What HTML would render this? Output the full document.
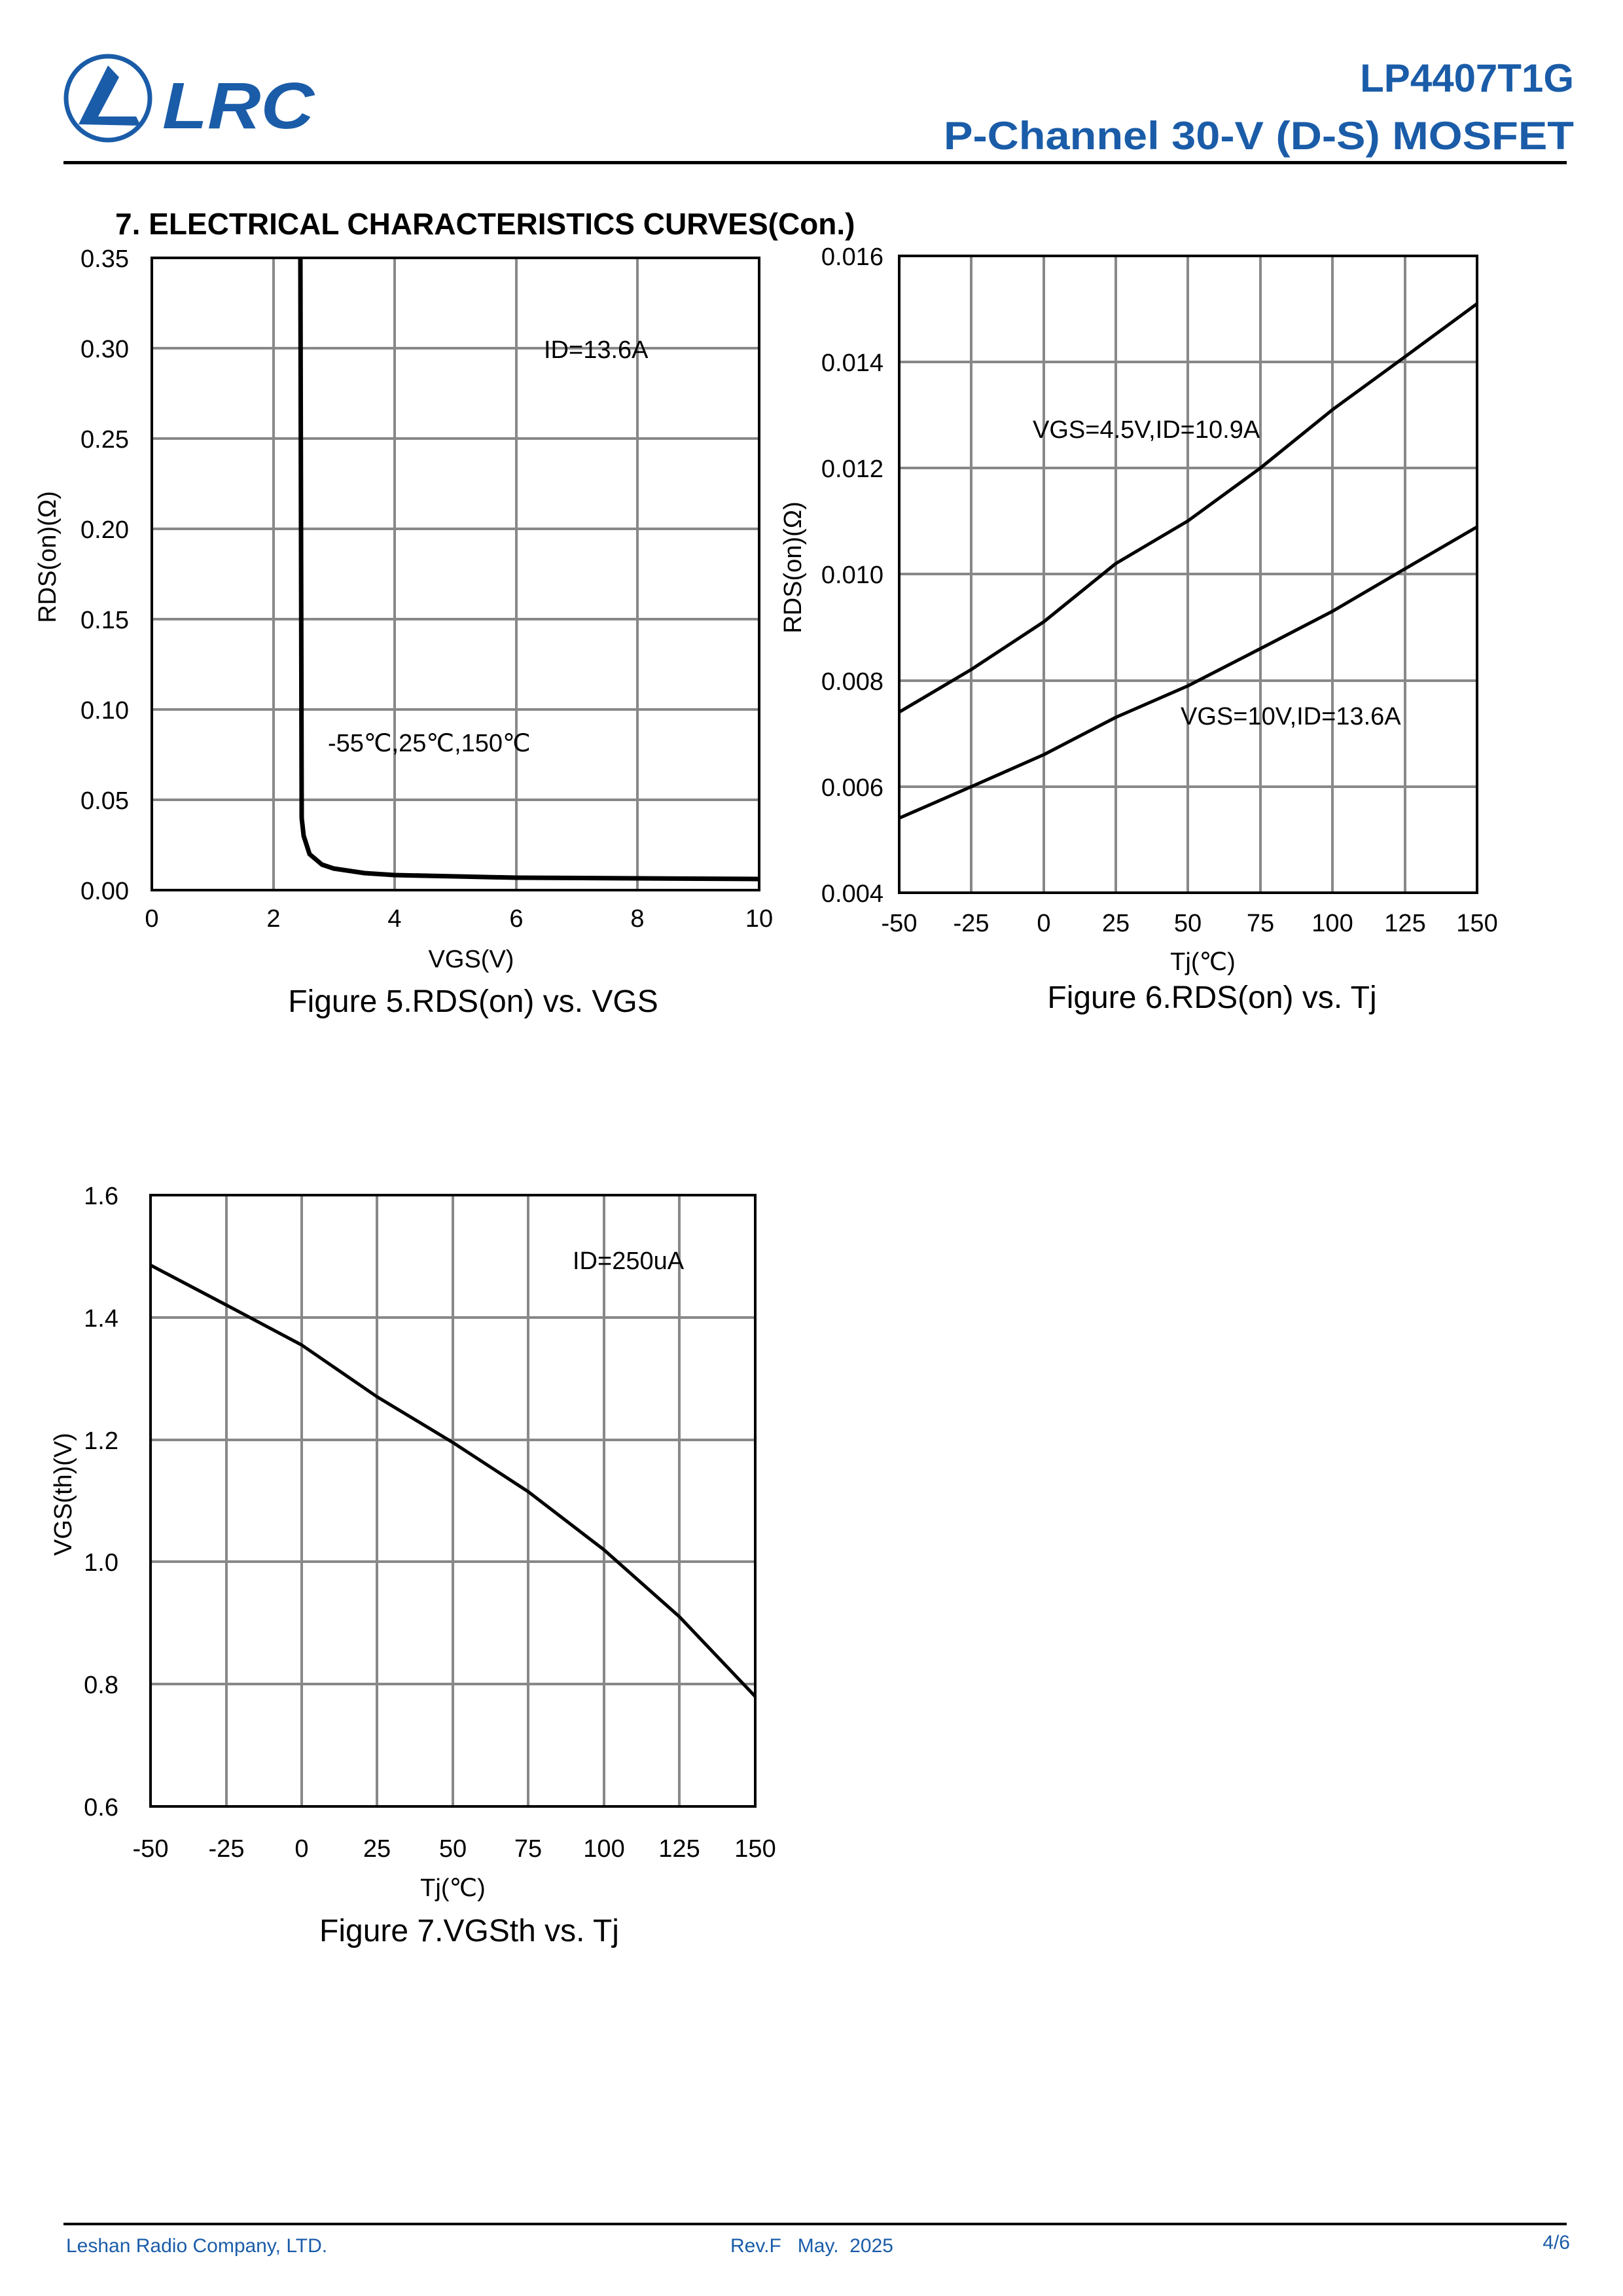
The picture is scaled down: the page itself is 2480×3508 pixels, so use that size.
<!DOCTYPE html>
<html><head><meta charset="utf-8"><style>
html,body{margin:0;padding:0;background:#fff}
svg{display:block}
text{font-family:"Liberation Sans",Arial,sans-serif}
</style></head><body>
<svg width="2480" height="3508" viewBox="0 0 2480 3508" xmlns="http://www.w3.org/2000/svg">
<rect width="2480" height="3508" fill="#fff"/>
<!-- header -->
<circle cx="165" cy="150" r="64" fill="none" stroke="#1a5ca8" stroke-width="7"/>
<path d="M120 190 L165 100 L182 118 L150 178 L208 178 L215 192 Z" fill="#1a5ca8"/>
<text x="248" y="196" font-size="100" font-weight="bold" font-style="italic" fill="#1a5ca8" textLength="232" lengthAdjust="spacingAndGlyphs">LRC</text>
<text x="2405" y="140" font-size="60" font-weight="bold" fill="#1a5ca8" text-anchor="end">LP4407T1G</text>
<text x="2405" y="228" font-size="60" font-weight="bold" fill="#1a5ca8" text-anchor="end" textLength="963" lengthAdjust="spacingAndGlyphs">P-Channel 30-V (D-S) MOSFET</text>
<rect x="97" y="246" width="2297" height="5" fill="#000"/>
<text x="176" y="358" font-size="46" font-weight="bold">7. ELECTRICAL CHARACTERISTICS CURVES(Con.)</text>

<g stroke="#888" stroke-width="4" fill="none">
<!-- fig5 grid -->
<path d="M418 394V1360M603 394V1360M789 394V1360M974 394V1360M232 532H1160M232 670H1160M232 808H1160M232 946H1160M232 1084H1160M232 1222H1160"/>
<!-- fig6 grid -->
<path d="M1484 391V1364M1595 391V1364M1705 391V1364M1815 391V1364M1926 391V1364M2036 391V1364M2147 391V1364M1374 553H2257M1374 715H2257M1374 877H2257M1374 1040H2257M1374 1202H2257"/>
<!-- fig7 grid -->
<path d="M346 1826V2760M461 1826V2760M576 1826V2760M692 1826V2760M807 1826V2760M923 1826V2760M1038 1826V2760M230 2013H1154M230 2200H1154M230 2386H1154M230 2573H1154"/>
</g>
<g stroke="#000" stroke-width="4" fill="none">
<rect x="232" y="394" width="928" height="966"/>
<rect x="1374" y="391" width="883" height="973"/>
<rect x="230" y="1826" width="924" height="934"/>
</g>
<g stroke="#000" fill="none" stroke-linejoin="round">
<polyline stroke-width="7" points="459,394 461,1250 464,1277 473,1305 492,1321 510,1327 557,1334 603,1337 696,1339 789,1341 974,1342 1160,1343"/>
<polyline stroke-width="5" points="1374,1088 1484,1023 1595,950 1705,861 1815,796 1926,715 2036,626 2147,545 2257,464"/>
<polyline stroke-width="5" points="1374,1250 1484,1202 1595,1153 1705,1096 1815,1048 1926,991 2036,934 2147,869 2257,805"/>
<polyline stroke-width="5" points="230,1933 346,1994 461,2055 576,2134 692,2204 807,2279 923,2368 1038,2470 1154,2592"/>
</g>

<g font-size="38">
<!-- fig5 labels -->
<g text-anchor="end">
<text x="197" y="408">0.35</text><text x="197" y="546">0.30</text><text x="197" y="684">0.25</text><text x="197" y="822">0.20</text><text x="197" y="960">0.15</text><text x="197" y="1098">0.10</text><text x="197" y="1236">0.05</text><text x="197" y="1374">0.00</text>
</g>
<g text-anchor="middle">
<text x="232" y="1416">0</text><text x="418" y="1416">2</text><text x="603" y="1416">4</text><text x="789" y="1416">6</text><text x="974" y="1416">8</text><text x="1160" y="1416">10</text>
<text x="720" y="1478">VGS(V)</text>
</g>
<text x="72" y="851" text-anchor="middle" transform="rotate(-90 72 851)" dy="13">RDS(on)(Ω)</text>
<text x="831" y="547">ID=13.6A</text>
<text x="501" y="1148">-55℃,25℃,150℃</text>
<text x="723" y="1546" font-size="48" text-anchor="middle">Figure 5.RDS(on) vs. VGS</text>

<!-- fig6 labels -->
<g text-anchor="end">
<text x="1350" y="405">0.016</text><text x="1350" y="567">0.014</text><text x="1350" y="729">0.012</text><text x="1350" y="891">0.010</text><text x="1350" y="1054">0.008</text><text x="1350" y="1216">0.006</text><text x="1350" y="1378">0.004</text>
</g>
<g text-anchor="middle">
<text x="1374" y="1423">-50</text><text x="1484" y="1423">-25</text><text x="1595" y="1423">0</text><text x="1705" y="1423">25</text><text x="1815" y="1423">50</text><text x="1926" y="1423">75</text><text x="2036" y="1423">100</text><text x="2147" y="1423">125</text><text x="2257" y="1423">150</text>
<text x="1838" y="1482">Tj(℃)</text>
</g>
<text x="1211" y="867" text-anchor="middle" transform="rotate(-90 1211 867)" dy="13">RDS(on)(Ω)</text>
<text x="1578" y="669">VGS=4.5V,ID=10.9A</text>
<text x="1804" y="1107">VGS=10V,ID=13.6A</text>
<text x="1852" y="1540" font-size="48" text-anchor="middle">Figure 6.RDS(on) vs. Tj</text>

<!-- fig7 labels -->
<g text-anchor="end">
<text x="181" y="1840">1.6</text><text x="181" y="2027">1.4</text><text x="181" y="2214">1.2</text><text x="181" y="2400">1.0</text><text x="181" y="2587">0.8</text><text x="181" y="2774">0.6</text>
</g>
<g text-anchor="middle">
<text x="230" y="2837">-50</text><text x="346" y="2837">-25</text><text x="461" y="2837">0</text><text x="576" y="2837">25</text><text x="692" y="2837">50</text><text x="807" y="2837">75</text><text x="923" y="2837">100</text><text x="1038" y="2837">125</text><text x="1154" y="2837">150</text>
<text x="692" y="2897">Tj(℃)</text>
</g>
<text x="96" y="2283" text-anchor="middle" transform="rotate(-90 96 2283)" dy="13">VGS(th)(V)</text>
<text x="875" y="1939">ID=250uA</text>
<text x="717" y="2966" font-size="48" text-anchor="middle">Figure 7.VGSth vs. Tj</text>
</g>

<!-- footer -->
<rect x="97" y="3396" width="2297" height="4" fill="#000"/>
<g font-size="30" fill="#1a5ca8">
<text x="101" y="3441">Leshan Radio Company, LTD.</text>
<text x="1116" y="3441" xml:space="preserve">Rev.F   May.  2025</text>
<text x="2399" y="3436" text-anchor="end">4/6</text>
</g>
</svg>
</body></html>
